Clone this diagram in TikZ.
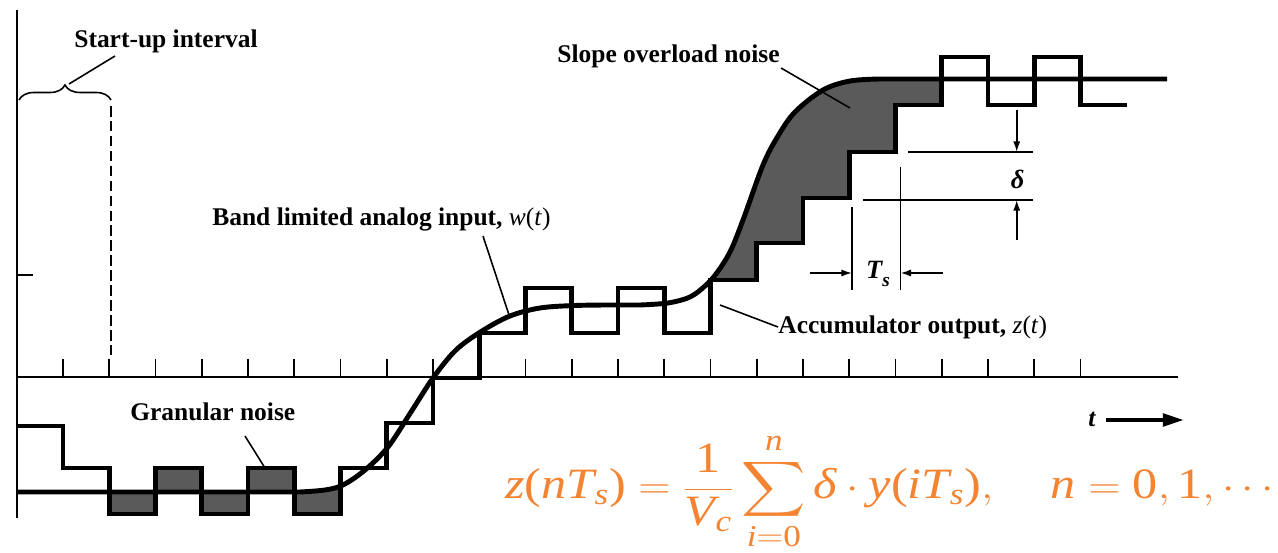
\documentclass[tikz,border=0pt]{standalone}
\usepackage{amsmath}
\usepackage{graphicx}
\usepackage{fontspec}
\setmainfont{Liberation Serif}
\usetikzlibrary{decorations.pathreplacing,arrows.meta}
\definecolor{eqorange}{RGB}{245,132,50}
\definecolor{shadegray}{RGB}{90,90,90}
\newcommand{\mi}[1]{\text{\itshape #1}}
\newcommand{\up}[1]{\text{\upshape #1}}
\begin{document}
\begin{tikzpicture}[x=0.02cm,y=-0.02cm,
  lbl/.style={font=\fontsize{14.5}{17}\selectfont\bfseries, inner sep=0pt, anchor=base west},
  axisline/.style={line width=1.6pt},
  tickline/.style={line width=1.1pt},
  sig/.style={line width=2.8pt, line join=miter},
  thinline/.style={line width=0.9pt},
  noise/.style={fill=shadegray},
  dimarrow/.style={thinline, -{Latex[length=6pt,width=4pt]}},
]
\useasboundingbox (0,0) rectangle (1278,553);

% ---------- shaded noise regions ----------
\fill[noise] (109.25,492) rectangle (155.5,514);
\fill[noise] (155.5,468) rectangle (201.75,492);
\fill[noise] (201.75,492) rectangle (248,514);
\fill[noise] (248,468) rectangle (294.25,492);
\begin{scope}
  \clip (294.25,440) rectangle (340.5,514);
  \fill[noise] (280,492) -- (300,492) -- plot[smooth,tension=0.55] coordinates {(300,492) (325,490) (343,485) (365,470) (388,447)} -- (388,530) -- (280,530) -- cycle;
\end{scope}
\begin{scope}
  \clip (710.5,20) -- (710.5,280) -- (756.75,280) -- (756.75,243) -- (803,243) -- (803,198) -- (849.25,198) -- (849.25,152) -- (895.5,152) -- (895.5,105) -- (941.75,105) -- (941.75,20) -- cycle;
  \fill[noise] (640,305) -- plot[smooth,tension=0.55] coordinates {(640,305) (668,303) (690,297) (705,286) (716,274) (730,252) (743,220) (763,165) (778,136) (795,112) (823,90) (850,81) (880,79)} -- (960,79) -- (960,400) -- (640,400) -- cycle;
\end{scope}

% ---------- axes ----------
\draw[axisline] (17,10) -- (17,518);
\draw[axisline] (17,377) -- (1178,377);
\draw[tickline] (17,275) -- (33,275);
\foreach \k in {0,...,22} \draw[tickline] ({63+46.25*\k},359) -- ({63+46.25*\k},377);

% ---------- start-up interval ----------
\draw[line width=1.3pt, dash pattern=on 6pt off 2.5pt] (111,106) -- (111,359);
\draw[thinline, decorate, decoration={brace, amplitude=0.3cm}] (19,100) -- (111,100);

% ---------- analog input w(t) ----------
\draw[sig, line join=round] (17,492) -- (300,492)
  -- plot[smooth,tension=0.55] coordinates {(300,492) (325,490) (343,485) (365,470) (388,447) (411,412) (433,378) (456,350) (482,331) (510,316) (540,308) (575,305.5) (610,305)}
  -- (640,305)
  -- plot[smooth,tension=0.55] coordinates {(640,305) (668,303) (690,297) (705,286) (716,274) (730,252) (743,220) (763,165) (778,136) (795,112) (823,90) (850,81) (880,79)}
  -- (1167,79);

% ---------- accumulator output z(t) ----------
\draw[sig] (17,426) -- (63,426) -- (63,468) -- (109.25,468) -- (109.25,514) -- (155.5,514) -- (155.5,468)
  -- (201.75,468) -- (201.75,514) -- (248,514) -- (248,468) -- (294.25,468) -- (294.25,514)
  -- (340.5,514) -- (340.5,468) -- (386.75,468) -- (386.75,423) -- (433,423) -- (433,378)
  -- (479.25,378) -- (479.25,333) -- (525.5,333) -- (525.5,288) -- (571.75,288) -- (571.75,333)
  -- (618,333) -- (618,288) -- (664.25,288) -- (664.25,333) -- (710.5,333) -- (710.5,280)
  -- (756.75,280) -- (756.75,243) -- (803,243) -- (803,198) -- (849.25,198) -- (849.25,152)
  -- (895.5,152) -- (895.5,105) -- (941.75,105) -- (941.75,57) -- (988,57) -- (988,105)
  -- (1034.25,105) -- (1034.25,57) -- (1080.5,57) -- (1080.5,105) -- (1127,105);

% ---------- delta and Ts dimensions ----------
\draw[thinline] (908,152) -- (1033,152);
\draw[thinline] (863,200) -- (1033,200);
\coordinate (dA) at (1016.7,110);
\coordinate (dB) at (1016.7,152);
\coordinate (dC) at (1016.7,240);
\coordinate (dD) at (1016.7,200);
\draw[dimarrow] (dA) -- (dB);
\draw[dimarrow] (dC) -- (dD);
\node[font=\fontsize{15}{17}\selectfont\bfseries\itshape, inner sep=0pt] (deltalbl) at (1017.7,179) {δ};

\draw[thinline] (852,207) -- (852,290);
\draw[thinline] (900.5,167) -- (900.5,290);
\coordinate (tA) at (810,273);
\coordinate (tB) at (852,273);
\coordinate (tC) at (943,273);
\coordinate (tD) at (900.5,273);
\draw[dimarrow] (tA) -- (tB);
\draw[dimarrow] (tC) -- (tD);
\node[font=\fontsize{15}{17}\selectfont\bfseries\itshape, inner sep=0pt] (tslbl) at (878,274) {T\raisebox{-0.3em}{\fontsize{11}{12}\selectfont s}};

% ---------- labels and leaders ----------
\node[lbl] (startlbl) at (74,47.6) {Start-up interval};
\coordinate (startA) at (115,56);
\coordinate (startB) at (69,84);
\draw[thinline] (startA) -- (startB);

\node[lbl] (bandlbl) at (212,226) {Band limited analog input, \textmd{\textit{w}(\textit{t})}};
\coordinate (bandA) at (483,236);
\coordinate (bandB) at (509,315);
\draw[thinline] (bandA) -- (bandB);

\node[lbl] (granlbl) at (130,421) {Granular noise};
\coordinate (granA) at (245,436);
\coordinate (granB) at (265,468);
\draw[thinline] (granA) -- (granB);

\node[lbl] (slopelbl) at (557,62.7) {Slope overload noise};
\coordinate (slopeA) at (781,68);
\coordinate (slopeB) at (850,108);
\draw[thinline] (slopeA) -- (slopeB);

\node[lbl] (acclbl) at (778,334) {Accumulator output, \textmd{\textit{z}(\textit{t})}};
\coordinate (accA) at (720,305);
\coordinate (accB) at (778,327);
\draw[thinline] (accA) -- (accB);

\node[lbl] (tlbl) at (1088,426.7) {\textit{t}};
\coordinate (tarrA) at (1106,420);
\coordinate (tarrB) at (1184,420);
\draw[line width=2.4pt, -{Triangle[length=12pt,width=7pt]}] (tarrA) -- (tarrB);

% ---------- formula ----------
\node[anchor=base west, inner sep=0pt, text=eqorange, font=\fontsize{28}{34}\selectfont] (eq) at (505,499)
  {\scalebox{1.02}[0.88]{$\displaystyle \mi{z}\up{(}\mi{n}\mi{T}_{\mi{s}}\up{)} = \frac{\up{1}}{\mi{V}_{\mi{c}}}\sum_{\mi{i}=\up{0}}^{\mi{n}}\mi{δ}\cdot\mi{y}\up{(}\mi{i}\mi{T}_{\mi{s}}\up{)},\quad \mi{n}=\up{0},\up{1},\cdots$}};
\end{tikzpicture}
\end{document}
